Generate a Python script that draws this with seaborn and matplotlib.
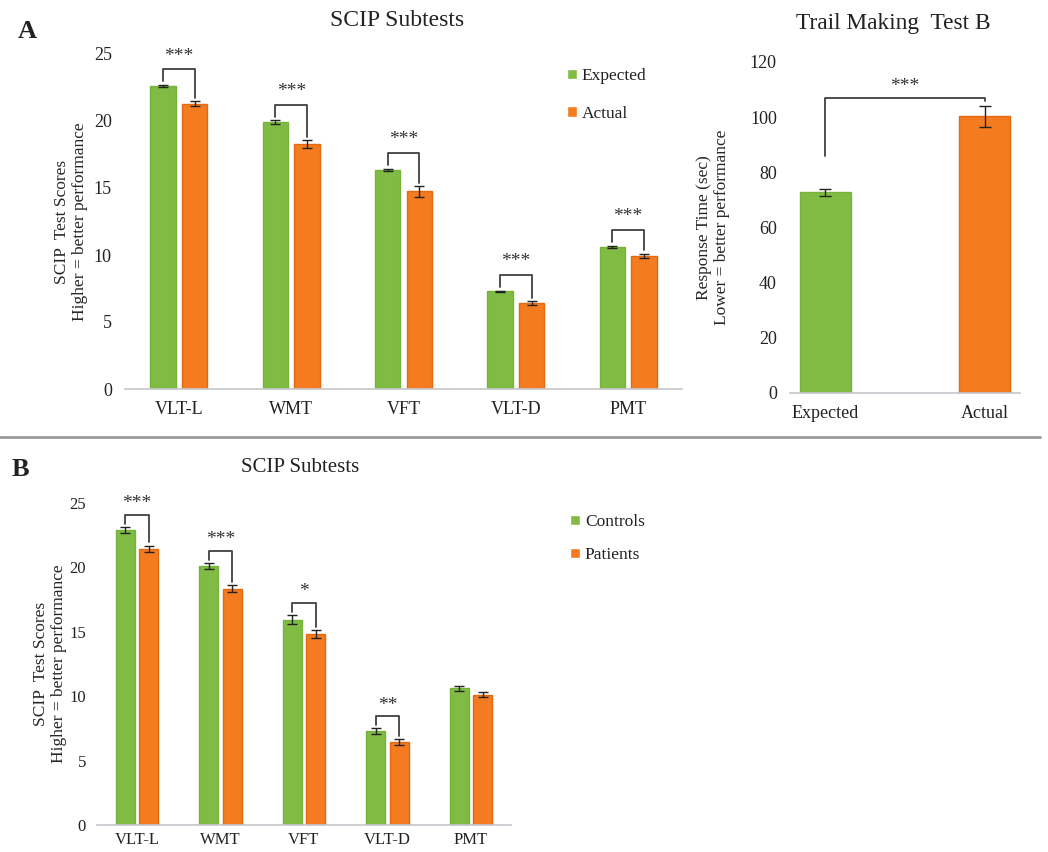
import numpy as np
import pandas as pd
import seaborn as sns
import matplotlib.pyplot as plt
from matplotlib.patches import Patch
from matplotlib.lines import Line2D

# datos
subtests = ["VLT-L", "WMT", "VFT", "VLT-D", "PMT"]

# Panel A: esperado vs real
a_groups = ["Expected", "Actual"]
a_expected = [22.6, 19.9, 16.35, 7.3, 10.6]
a_expected_err = [0.1, 0.15, 0.1, 0.05, 0.1]
a_actual = [21.3, 18.25, 14.75, 6.4, 9.95]
a_actual_err = [0.2, 0.3, 0.4, 0.15, 0.15]
a_sig = ["***", "***", "***", "***", "***"]

# Trail Making Test B
tmt_groups = ["Expected", "Actual"]
tmt_values = [72.8, 100.3]
tmt_err = [1.2, 3.7]
tmt_sig = "***"

# Panel B: controles vs pacientes
b_groups = ["Controls", "Patients"]
b_controls = [22.9, 20.1, 15.95, 7.3, 10.6]
b_controls_err = [0.25, 0.25, 0.35, 0.2, 0.2]
b_patients = [21.45, 18.35, 14.85, 6.45, 10.1]
b_patients_err = [0.25, 0.25, 0.3, 0.2, 0.2]
b_sig = ["***", "***", "*", "**", ""]

GREEN = "#80BC43"
ORANGE = "#F47B20"
EDGES = ["#76B33B", "#E46A12"]
GRAY = "#404040"

sns.set_style("white")
plt.rcParams["font.family"] = ["Liberation Serif", "DejaVu Serif"]
plt.rcParams["text.color"] = "#222222"

fig = plt.figure(figsize=(10.48, 8.52), dpi=100)
W, H = 1048, 852


def px_axes(left, right, top, bottom):
    # pixeles de la imagen -> fraccion de figura
    return fig.add_axes([left / W, 1 - bottom / H, (right - left) / W, (bottom - top) / H])


def style_axis(ax, ticks, ylim, fs=13, xpad=9, ypad=9):
    ax.set_ylim(*ylim)
    ax.set_yticks(ticks)
    for s in ["top", "right", "left"]:
        ax.spines[s].set_visible(False)
    ax.spines["bottom"].set_color("#C3C6CC")
    ax.spines["bottom"].set_linewidth(1.2)
    ax.tick_params(axis="both", length=0, labelsize=fs, colors="#222222")
    ax.tick_params(axis="y", pad=ypad)
    ax.tick_params(axis="x", pad=xpad)
    ax.set_xlabel("")


def grouped_panel(ax, g1, g1_err, g2, g2_err, groups, sig, width, gap, off_top, off_star,
                  fs, xpad, ypad, label_x, label_fs):
    df = pd.DataFrame({
        "subtest": subtests * 2,
        "grupo": [groups[0]] * len(subtests) + [groups[1]] * len(subtests),
        "valor": g1 + g2,
    })
    sns.barplot(data=df, x="subtest", y="valor", hue="grupo", hue_order=groups,
                palette=[GREEN, ORANGE], saturation=1, width=width, gap=gap,
                errorbar=None, legend=False, ax=ax)
    tops = []
    for cont, vals, errs, ec in zip(ax.containers, [g1, g2], [g1_err, g2_err], EDGES):
        xs = [b.get_x() + b.get_width() / 2 for b in cont]
        for b in cont:
            b.set_edgecolor(ec)
            b.set_linewidth(1)
        ax.errorbar(xs, vals, yerr=errs, fmt="none", ecolor="#222222",
                    elinewidth=1, capsize=3.5, capthick=1)
        tops.append((xs, np.array(vals) + np.array(errs)))
    # corchetes de significancia
    for i, s in enumerate(sig):
        if not s:
            continue
        x1, y1 = tops[0][0][i], tops[0][1][i]
        x2, y2 = tops[1][0][i], tops[1][1][i]
        top = max(y1, y2) + off_top
        ax.plot([x1, x1, x2, x2], [y1 + 0.25, top, top, y2 + 0.25],
                color=GRAY, lw=1.3, clip_on=False)
        ax.text((x1 + x2) / 2, top + off_star, s, ha="center", va="center",
                fontsize=14, color="#333333")
    style_axis(ax, range(0, 26, 5), (0, 25), fs, xpad, ypad)
    ax.set_ylabel("SCIP  Test Scores\nHigher = better performance", fontsize=label_fs,
                  linespacing=1.2)
    ax.yaxis.set_label_coords(label_x, 0.5)


# Panel A izquierda
axA = px_axes(125, 682, 54, 389)
grouped_panel(axA, a_expected, a_expected_err, a_actual, a_actual_err, a_groups,
              a_sig, 0.565, 0.2, 1.15, 1.0, 13, 9, 9.5, -0.066, 12.5)
axA.legend(handles=[Patch(facecolor=GREEN), Patch(facecolor=ORANGE)], labels=a_groups,
           loc="upper left", bbox_to_anchor=(567 / W, 1 - 68 / H),
           bbox_transform=fig.transFigure, frameon=False, fontsize=12.5,
           handlelength=0.55, handleheight=0.55, handletextpad=0.3,
           labelspacing=1.25, borderpad=0, borderaxespad=0)

# Trail Making Test B
axT = px_axes(790, 1020, 62, 393)
tmt_df = pd.DataFrame({"grupo": tmt_groups, "valor": tmt_values})
sns.barplot(data=tmt_df, x="grupo", y="valor", hue="grupo", palette=[GREEN, ORANGE],
            saturation=1, width=0.315, errorbar=None, legend=False, ax=axT)
txs = []
for cont, ec in zip(axT.containers, EDGES):
    for b in cont:
        b.set_edgecolor(ec)
        b.set_linewidth(1)
        txs.append(b.get_x() + b.get_width() / 2)
axT.errorbar(txs, tmt_values, yerr=tmt_err, fmt="none", ecolor="#222222",
             elinewidth=1, capsize=4, capthick=1)
t_top = max(np.array(tmt_values) + np.array(tmt_err)) + 3
axT.plot([txs[0], txs[0], txs[1], txs[1]], [t_top - 21, t_top, t_top, t_top - 1.2],
         color=GRAY, lw=1.3, clip_on=False)
axT.text(sum(txs) / 2, t_top + 4, tmt_sig, ha="center", va="center", fontsize=14,
         color="#333333")
style_axis(axT, range(0, 121, 20), (0, 120), ypad=9.5)
axT.set_ylabel("Response Time (sec)\nLower = better performance", fontsize=12.5,
               linespacing=1.15)
axT.yaxis.set_label_coords(-0.26, 0.5)

# Panel B
axB = px_axes(97, 511, 503, 825)
grouped_panel(axB, b_controls, b_controls_err, b_patients, b_patients_err, b_groups,
              b_sig, 0.56, 0.18, 0.95, 0.85, 12, 5, 8, -0.072, 12.5)
axB.legend(handles=[Patch(facecolor=GREEN), Patch(facecolor=ORANGE)], labels=b_groups,
           loc="upper left", bbox_to_anchor=(570 / W, 1 - 514 / H),
           bbox_transform=fig.transFigure, frameon=False, fontsize=12.5,
           handlelength=0.55, handleheight=0.55, handletextpad=0.3,
           labelspacing=1.0, borderpad=0, borderaxespad=0)

# titulos y letras de panel
fig.text(397 / W, 1 - 20 / H, "SCIP Subtests", ha="center", va="center", fontsize=17)
fig.text(893 / W, 1 - 24 / H, "Trail Making  Test B", ha="center", va="center", fontsize=16.8)
fig.text(300 / W, 1 - 467 / H, "SCIP Subtests", ha="center", va="center", fontsize=15)
fig.text(27 / W, 1 - 31 / H, "A", ha="center", va="center", fontsize=19, fontweight="bold")
fig.text(20 / W, 1 - 470 / H, "B", ha="center", va="center", fontsize=19, fontweight="bold")
fig.add_artist(Line2D([0, 1040 / W], [1 - 437 / H, 1 - 437 / H], color="#9A9A9A",
                      lw=2, transform=fig.transFigure))

fig.savefig("out.png", dpi=100, facecolor="white")
